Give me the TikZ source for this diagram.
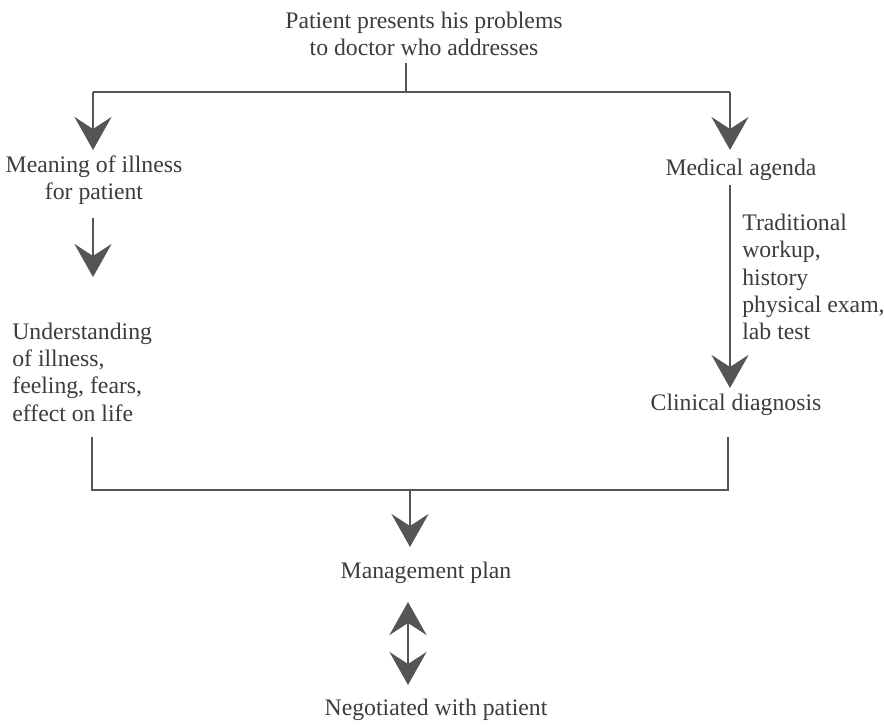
\documentclass[tikz,border=0pt]{standalone}
\usepackage{fontspec}
\setmainfont{Liberation Serif}
\usetikzlibrary{arrows.meta,positioning}
\definecolor{lineGray}{HTML}{555555}
\definecolor{textGray}{HTML}{3C3C3C}
\tikzset{
  txt/.style={text=textGray,inner sep=0pt,font=\fontsize{13.5pt}{15.6pt}\selectfont},
  ln/.style={draw=lineGray,line width=1.6pt},
  arr/.style={ln,-{Stealth[length=6.6mm,width=7.4mm,inset=2.4mm]}},
  darr/.style={ln,{Stealth[length=6.6mm,width=7.4mm,inset=2.4mm]}-{Stealth[length=6.6mm,width=7.4mm,inset=2.4mm]}}
}
\begin{document}
\begin{tikzpicture}[x=0.02cm,y=-0.02cm]
\useasboundingbox (0,0) rectangle (884,724);
%texts
\node[txt,align=center] (nPatient) at (424,34) {Patient presents his problems\\to doctor who addresses};
\node[txt,align=center] (nMeaning) at (94,180) {Meaning of illness\\for patient};
\node[txt] (nAgenda) at (741,170) {Medical agenda};
\node[txt,align=left,anchor=west] (nUnderst) at (12,372) {Understanding\\of illness,\\feeling, fears,\\effect on life};
\node[txt,align=left,anchor=west] (nWorkup) at (742,277) {Traditional\\workup,\\history\\physical exam,\\lab test};
\node[txt] (nDiag) at (736,405) {Clinical diagnosis};
\node[txt] (nPlan) at (426,573) {Management plan};
\node[txt] (nNegot) at (436,710) {Negotiated with patient};
%branch points
\coordinate (cStem) at (406,63);
\coordinate (cJoin) at (406,92);
\coordinate (cTopL) at (93,92);
\coordinate (cTopR) at (730,92);
\coordinate (cMeanTip) at (93,150);
\coordinate (cAgendaTip) at (730,150);
\coordinate (cMeanOut) at (93,218);
\coordinate (cUnderTip) at (93,277);
\coordinate (cAgendaOut) at (730,185);
\coordinate (cDiagTip) at (730,388);
\coordinate (cBotL) at (92,437);
\coordinate (cBotR) at (728,437);
\coordinate (cBotJoin) at (410,490);
\coordinate (cPlanTip) at (410,547);
\coordinate (cUpTip) at (408,602);
\coordinate (cDownTip) at (408,685);

\draw[ln] (cStem) -- (cJoin);
\draw[ln] (cTopL) -- (cTopR);
\draw[arr] (cTopL) -- (cMeanTip);
\draw[arr] (cTopR) -- (cAgendaTip);
\draw[arr] (cMeanOut) -- (cUnderTip);
\draw[arr] (cAgendaOut) -- (cDiagTip);
\draw[ln] (cBotL) |- (cBotJoin) -| (cBotR);
\draw[arr] (cBotJoin) -- (cPlanTip);
\draw[darr] (cUpTip) -- (cDownTip);
\end{tikzpicture}
\end{document}
